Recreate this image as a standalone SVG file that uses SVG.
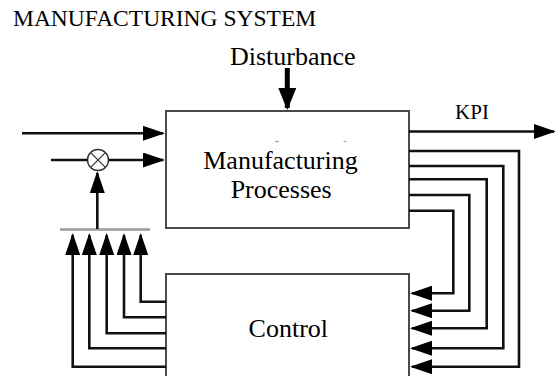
<svg xmlns="http://www.w3.org/2000/svg" width="555" height="376" viewBox="0 0 555 376">
  <style>
    .t { font-family: "Liberation Serif", "Times New Roman", serif; fill: #000; }
    .box { fill: #fff; stroke: #4a4a4a; stroke-width: 2; }
    .ln { fill: none; stroke: #111; stroke-width: 2.6; stroke-linejoin: miter; }
  </style>
  <defs>
    <marker id="ah" markerUnits="userSpaceOnUse" markerWidth="22" markerHeight="16" refX="20" refY="7.5" orient="auto">
      <path d="M0,0 L22,7.5 L0,15 Z" fill="#000"/>
    </marker>
    <marker id="ahb" markerUnits="userSpaceOnUse" markerWidth="22" markerHeight="20" refX="20" refY="9" orient="auto">
      <path d="M0,0 L22,9 L0,18 Z" fill="#000"/>
    </marker>
  </defs>
  <rect width="555" height="376" fill="#fff"/>

  <g id="title">
    <text class="t" x="13" y="26" font-size="23.5">MANUFACTURING SYSTEM</text>
  </g>

  <g id="disturbance">
    <text class="t" x="292.7" y="65" font-size="26" text-anchor="middle">Disturbance</text>
  </g>

  <g id="manufacturing-processes">
    <rect class="box" x="166" y="111" width="243" height="117"/>
    <line x1="275" y1="141.5" x2="279" y2="141.5" stroke="#c9a070" stroke-width="1.2"/>
    <line x1="343.5" y1="141.5" x2="346.5" y2="141.5" stroke="#c9a070" stroke-width="1.2"/>
    <text class="t" x="280.5" y="169.3" font-size="26" text-anchor="middle">Manufacturing</text>
    <text class="t" x="281.2" y="198.3" font-size="26" text-anchor="middle">Processes</text>
  </g>

  <g id="control">
    <rect class="box" x="166" y="274" width="243" height="106"/>
    <text class="t" x="288.3" y="336.7" font-size="26" text-anchor="middle">Control</text>
  </g>

  <g id="kpi">
    <text class="t" x="472" y="119" font-size="21" text-anchor="middle">KPI</text>
  </g>

  <g id="multiplier">
    <circle cx="98" cy="160" r="10.5" fill="none" stroke="#333" stroke-width="1.4"/>
    <line x1="90.6" y1="152.6" x2="105.4" y2="167.4" stroke="#333" stroke-width="1.2"/>
    <line x1="105.4" y1="152.6" x2="90.6" y2="167.4" stroke="#333" stroke-width="1.2"/>
  </g>

  <g id="collector-bar">
    <line x1="60" y1="229.5" x2="150" y2="229.5" stroke="#999" stroke-width="2.6"/>
  </g>

  <g id="connectors">
    <!-- disturbance -->
    <line x1="287.3" y1="68" x2="287.3" y2="108" stroke="#000" stroke-width="5" marker-end="url(#ahb)"/>
    <!-- inputs -->
    <line class="ln" x1="22" y1="133.3" x2="163" y2="133.3" marker-end="url(#ah)"/>
    <line class="ln" x1="51" y1="160" x2="87.5" y2="160"/>
    <line class="ln" x1="108.5" y1="160" x2="163" y2="160" marker-end="url(#ah)"/>
    <!-- bar to multiplier -->
    <line class="ln" x1="97.3" y1="229" x2="97.3" y2="173" marker-end="url(#ah)"/>
    <!-- KPI output -->
    <line class="ln" x1="409" y1="131.5" x2="554" y2="131.5" marker-end="url(#ah)"/>
    <!-- feedback from process to control (right side) -->
    <polyline class="ln" points="409,151 519,151 519,366.7 412,366.7" marker-end="url(#ah)"/>
    <polyline class="ln" points="409,166 503.3,166 503.3,348.3 412,348.3" marker-end="url(#ah)"/>
    <polyline class="ln" points="409,179.3 486.7,179.3 486.7,328.3 412,328.3" marker-end="url(#ah)"/>
    <polyline class="ln" points="409,195 469.3,195 469.3,310.7 412,310.7" marker-end="url(#ah)"/>
    <polyline class="ln" points="409,210.7 453.3,210.7 453.3,293.3 412,293.3" marker-end="url(#ah)"/>
    <!-- control outputs to collector (left side) -->
    <polyline class="ln" points="166,366.7 72.7,366.7 72.7,235" marker-end="url(#ah)"/>
    <polyline class="ln" points="166,348.3 89.3,348.3 89.3,235" marker-end="url(#ah)"/>
    <polyline class="ln" points="166,333.3 106.7,333.3 106.7,235" marker-end="url(#ah)"/>
    <polyline class="ln" points="166,317.3 124,317.3 124,235" marker-end="url(#ah)"/>
    <polyline class="ln" points="166,301.7 140.7,301.7 140.7,235" marker-end="url(#ah)"/>
  </g>
</svg>
